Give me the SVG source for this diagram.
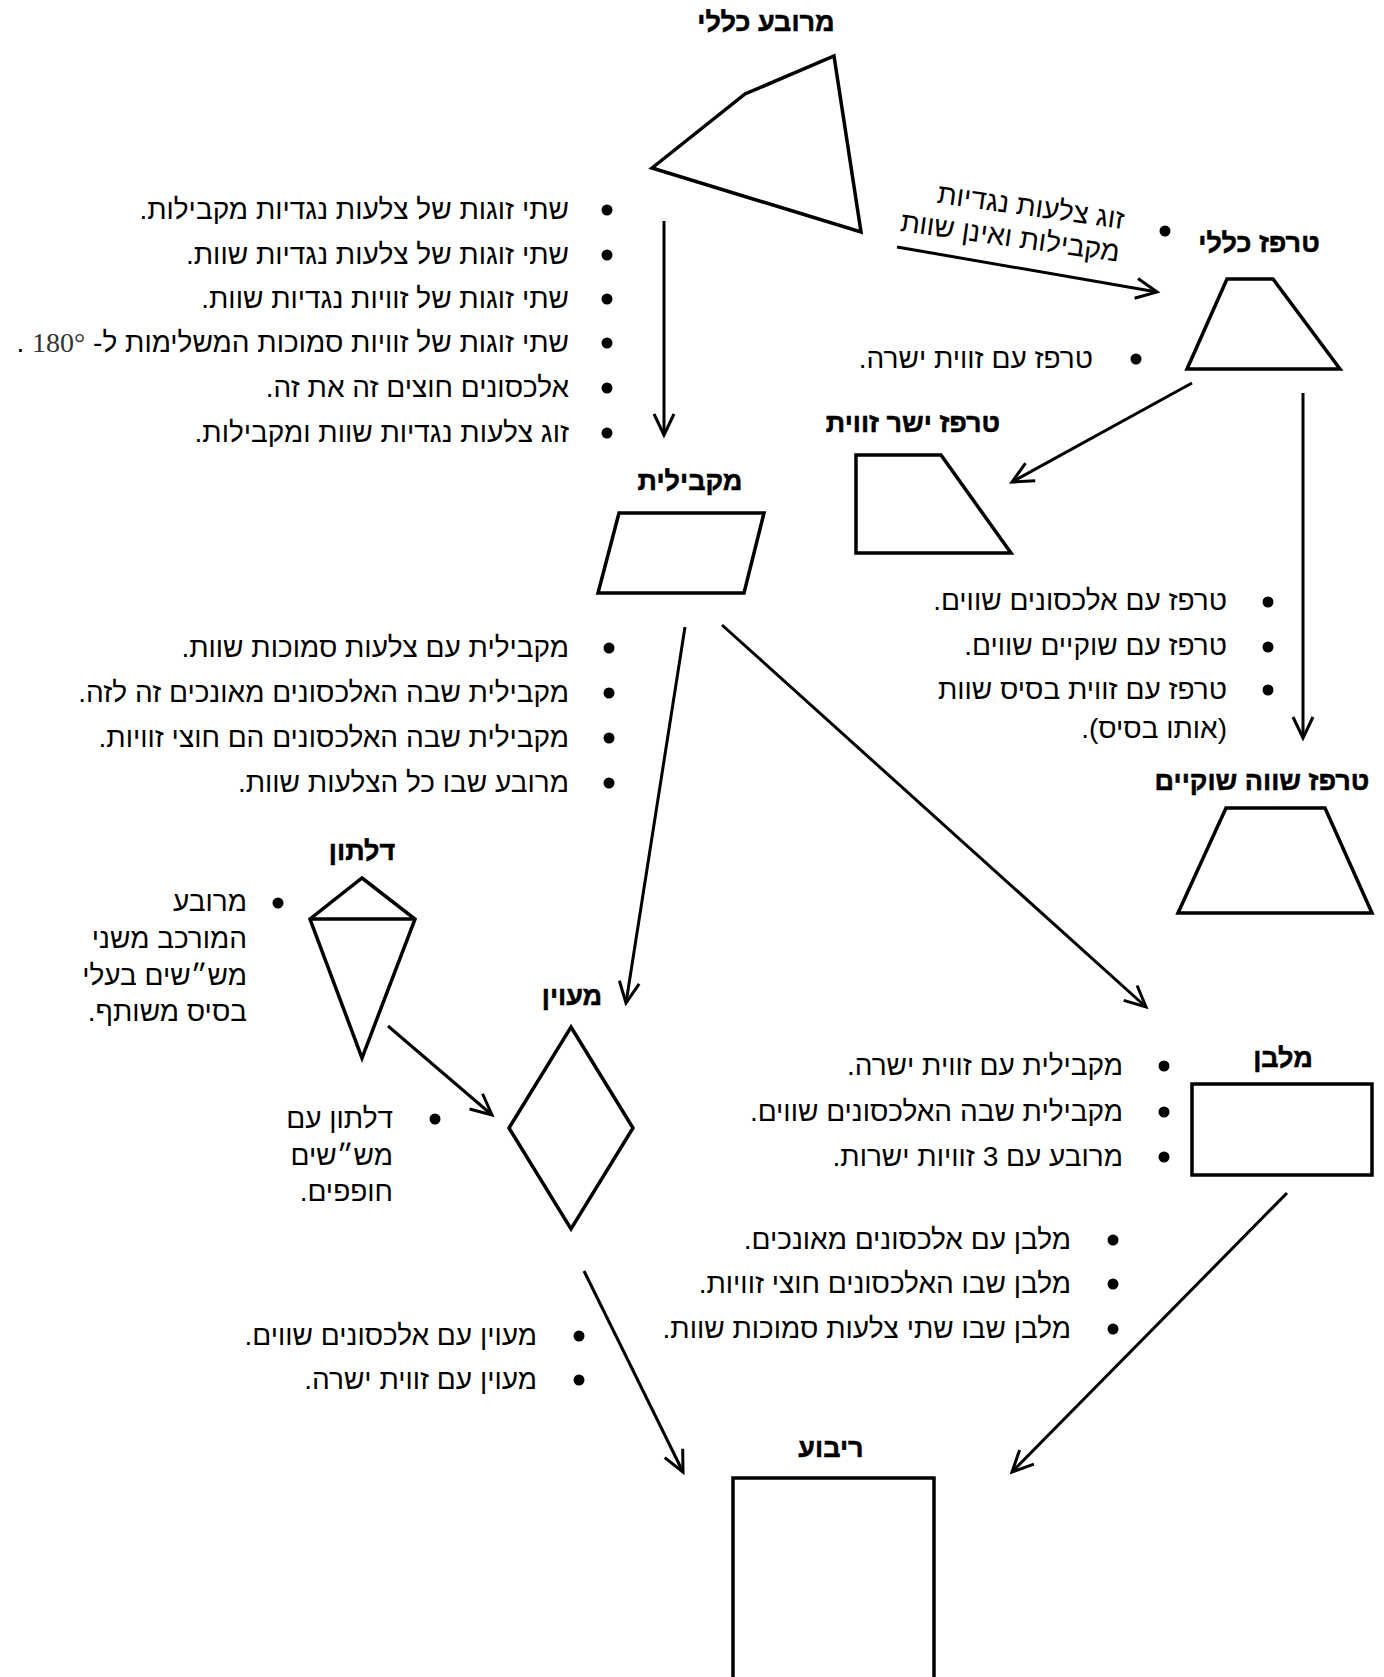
<svg xmlns="http://www.w3.org/2000/svg" width="1384" height="1677" viewBox="0 0 1384 1677">
<defs>
<style>
.t{font-family:"Liberation Sans","DejaVu Sans",sans-serif;font-weight:bold;font-size:27px;fill:#000;stroke:#000;stroke-width:0.5;text-anchor:middle;direction:rtl}
.b{font-family:"Liberation Sans","DejaVu Sans",sans-serif;font-size:28px;fill:#000;direction:rtl;text-anchor:start}
.deg{font-family:"Liberation Serif","DejaVu Serif",serif;fill:#333}
.s{fill:none;stroke:#000;stroke-width:3.5;stroke-linejoin:miter}
.c{fill:none;stroke:#000;stroke-width:3}
.dot{fill:#000}
</style>
<marker id="arr" viewBox="-26 -14 30 28" refX="0" refY="0" markerWidth="30" markerHeight="28" markerUnits="userSpaceOnUse" orient="auto">
<path d="M-21,-10 L0,0 L-21,10" fill="none" stroke="#000" stroke-width="3"/>
</marker>
</defs>
<rect width="1384" height="1677" fill="#fff"/>

<g id="connectors">
<line class="c" x1="664" y1="221" x2="664" y2="435" marker-end="url(#arr)"/>
<line class="c" x1="897" y1="247" x2="1157" y2="292" marker-end="url(#arr)"/>
<line class="c" x1="1192" y1="383" x2="1012" y2="482" marker-end="url(#arr)"/>
<line class="c" x1="1303" y1="393" x2="1303" y2="738" marker-end="url(#arr)"/>
<line class="c" x1="685" y1="627" x2="626" y2="1003" marker-end="url(#arr)"/>
<line class="c" x1="722" y1="625" x2="1146" y2="1007" marker-end="url(#arr)"/>
<line class="c" x1="388" y1="1026" x2="492" y2="1115" marker-end="url(#arr)"/>
<line class="c" x1="584" y1="1271" x2="683" y2="1472" marker-end="url(#arr)"/>
<line class="c" x1="1287" y1="1193" x2="1012" y2="1472" marker-end="url(#arr)"/>
</g>

<g id="node-quadrilateral">
<text class="t" x="766" y="31">מרובע כללי</text>
<polygon class="s" points="652,168 745,94 834,56 861,232"/>
</g>

<g id="node-trapezoid">
<text class="t" x="1259" y="252">טרפז כללי</text>
<polygon class="s" points="1227,279 1273,279 1340,369 1187,369"/>
</g>

<g id="node-right-trapezoid">
<text class="t" x="913" y="432">טרפז ישר זווית</text>
<polygon class="s" points="856,455 941,455 1011,553 856,553"/>
</g>

<g id="node-parallelogram">
<text class="t" x="690" y="490">מקבילית</text>
<polygon class="s" points="619,513 764,513 744,593 598,593"/>
</g>

<g id="node-isosceles-trapezoid">
<text class="t" x="1262" y="790">טרפז שווה שוקיים</text>
<polygon class="s" points="1226,808 1325,808 1372,913 1178,913"/>
</g>

<g id="node-kite">
<text class="t" x="362" y="860">דלתון</text>
<polygon class="s" points="362,878 415,919 362,1058 310,919"/>
<line class="s" x1="310" y1="919" x2="415" y2="919"/>
</g>

<g id="node-rhombus">
<text class="t" x="572" y="1005">מעוין</text>
<polygon class="s" points="571,1027 633,1128 571,1229 509,1128"/>
</g>

<g id="node-rectangle">
<text class="t" x="1283" y="1067">מלבן</text>
<rect class="s" x="1192" y="1084" width="180" height="91"/>
</g>

<g id="node-square">
<text class="t" x="831" y="1457">ריבוע</text>
<rect class="s" x="733" y="1478" width="201" height="230"/>
</g>

<g id="label-quad-parallelogram">
<circle class="dot" cx="607" cy="210" r="5.5"/>
<circle class="dot" cx="607" cy="255" r="5.5"/>
<circle class="dot" cx="607" cy="299" r="5.5"/>
<circle class="dot" cx="607" cy="343" r="5.5"/>
<circle class="dot" cx="607" cy="388" r="5.5"/>
<circle class="dot" cx="607" cy="433" r="5.5"/>
<text class="b" x="569" y="219">שתי זוגות של צלעות נגדיות מקבילות.</text>
<text class="b" x="569" y="264">שתי זוגות של צלעות נגדיות שוות.</text>
<text class="b" x="569" y="308">שתי זוגות של זוויות נגדיות שוות.</text>
<text class="b" x="569" y="352">שתי זוגות של זוויות סמוכות המשלימות ל- <tspan class="deg">180°</tspan> .</text>
<text class="b" x="569" y="397">אלכסונים חוצים זה את זה.</text>
<text class="b" x="569" y="442">זוג צלעות נגדיות שוות ומקבילות.</text>
</g>

<g id="label-quad-trapezoid">
<circle class="dot" cx="1165" cy="231" r="5.5"/>
<g transform="translate(1123,229) rotate(8)">
<text class="b" x="0" y="0">זוג צלעות נגדיות</text>
<text class="b" x="0" y="33">מקבילות ואינן שוות</text>
</g>
</g>

<g id="label-trapezoid-right">
<circle class="dot" cx="1136" cy="359" r="5.5"/>
<text class="b" x="1093" y="368">טרפז עם זווית ישרה.</text>
</g>

<g id="label-trapezoid-isosceles">
<circle class="dot" cx="1268" cy="602" r="5.5"/>
<circle class="dot" cx="1268" cy="647" r="5.5"/>
<circle class="dot" cx="1268" cy="690" r="5.5"/>
<text class="b" x="1227" y="610">טרפז עם אלכסונים שווים.</text>
<text class="b" x="1227" y="655">טרפז עם שוקיים שווים.</text>
<text class="b" x="1227" y="699">טרפז עם זווית בסיס שוות</text>
<text class="b" x="1227" y="738">(אותו בסיס).</text>
</g>

<g id="label-parallelogram-rhombus">
<circle class="dot" cx="609" cy="648" r="5.5"/>
<circle class="dot" cx="609" cy="693" r="5.5"/>
<circle class="dot" cx="609" cy="738" r="5.5"/>
<circle class="dot" cx="609" cy="783" r="5.5"/>
<text class="b" x="569" y="657">מקבילית עם צלעות סמוכות שוות.</text>
<text class="b" x="569" y="702">מקבילית שבה האלכסונים מאונכים זה לזה.</text>
<text class="b" x="569" y="747">מקבילית שבה האלכסונים הם חוצי זוויות.</text>
<text class="b" x="569" y="792">מרובע שבו כל הצלעות שוות.</text>
</g>

<g id="label-kite">
<circle class="dot" cx="278" cy="903" r="5.5"/>
<text class="b" x="247" y="911">מרובע</text>
<text class="b" x="247" y="948">המורכב משני</text>
<text class="b" x="247" y="985">מש״שים בעלי</text>
<text class="b" x="247" y="1021">בסיס משותף.</text>
</g>

<g id="label-kite-rhombus">
<circle class="dot" cx="435" cy="1119" r="5.5"/>
<text class="b" x="393" y="1128">דלתון עם</text>
<text class="b" x="393" y="1165">מש״שים</text>
<text class="b" x="393" y="1201">חופפים.</text>
</g>

<g id="label-parallelogram-rectangle">
<circle class="dot" cx="1164" cy="1066" r="5.5"/>
<circle class="dot" cx="1164" cy="1112" r="5.5"/>
<circle class="dot" cx="1164" cy="1157" r="5.5"/>
<text class="b" x="1123" y="1075">מקבילית עם זווית ישרה.</text>
<text class="b" x="1123" y="1121">מקבילית שבה האלכסונים שווים.</text>
<text class="b" x="1123" y="1166">מרובע עם 3 זוויות ישרות.</text>
</g>

<g id="label-rectangle-square">
<circle class="dot" cx="1113" cy="1240" r="5.5"/>
<circle class="dot" cx="1113" cy="1284" r="5.5"/>
<circle class="dot" cx="1113" cy="1329" r="5.5"/>
<text class="b" x="1071" y="1249">מלבן עם אלכסונים מאונכים.</text>
<text class="b" x="1071" y="1293">מלבן שבו האלכסונים חוצי זוויות.</text>
<text class="b" x="1071" y="1338">מלבן שבו שתי צלעות סמוכות שוות.</text>
</g>

<g id="label-rhombus-square">
<circle class="dot" cx="579" cy="1336" r="5.5"/>
<circle class="dot" cx="579" cy="1380" r="5.5"/>
<text class="b" x="537" y="1345">מעוין עם אלכסונים שווים.</text>
<text class="b" x="537" y="1389">מעוין עם זווית ישרה.</text>
</g>
</svg>
